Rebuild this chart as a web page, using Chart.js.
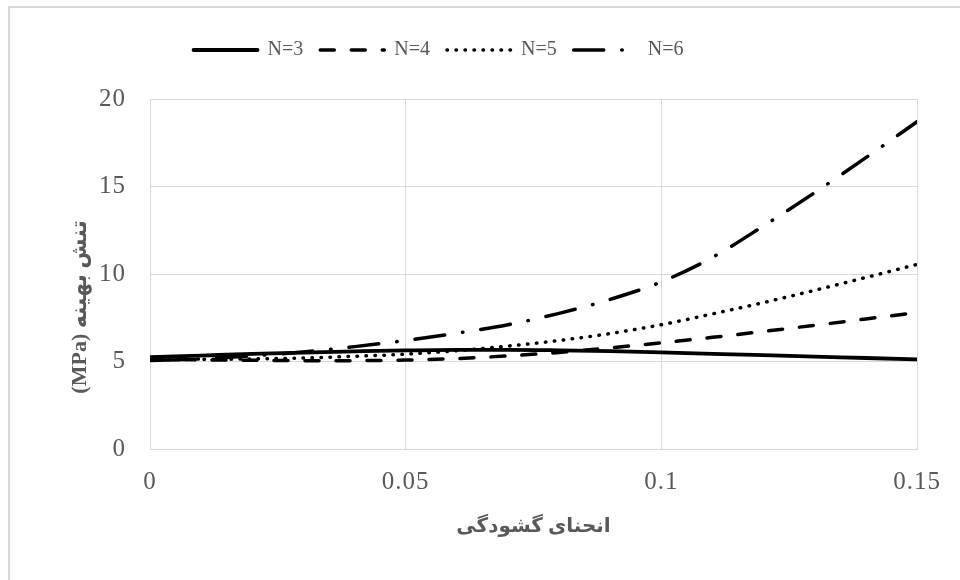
<!DOCTYPE html>
<html>
<head>
<meta charset="utf-8">
<script src="https://cdn.jsdelivr.net/npm/chart.js@4/dist/chart.umd.min.js"></script>
<style>
  html, body { margin: 0; padding: 0; background: #fff; overflow: hidden; }
  #wrap { position: relative; width: 960px; height: 580px; }
</style>
</head>
<body>
<div id="wrap"><canvas id="c" width="960" height="580"></canvas></div>
<script>
// ---- data ----
const curvature = [0, 0.01, 0.02, 0.03, 0.04, 0.05, 0.06, 0.07, 0.08, 0.09, 0.10, 0.11, 0.12, 0.13, 0.14, 0.15];
const seriesN3 = [5.25, 5.34, 5.43, 5.51, 5.58, 5.64, 5.67, 5.67, 5.64, 5.59, 5.52, 5.44, 5.36, 5.28, 5.2, 5.12];
const seriesN4 = [5.15, 5.1, 5.07, 5.05, 5.05, 5.08, 5.17, 5.32, 5.52, 5.78, 6.07, 6.38, 6.72, 7.07, 7.43, 7.8];
const seriesN5 = [5.1, 5.12, 5.15, 5.2, 5.3, 5.42, 5.62, 5.88, 6.2, 6.6, 7.1, 7.72, 8.37, 9.07, 9.8, 10.55];
const seriesN6 = [5.05, 5.15, 5.32, 5.55, 5.85, 6.2, 6.62, 7.1, 7.75, 8.55, 9.55, 10.95, 12.75, 14.65, 16.65, 18.7];
const seriesLabels = ['N=3', 'N=4', 'N=5', 'N=6'];
const yTicks = [0, 5, 10, 15, 20];
const xTicks = [0, 0.05, 0.1, 0.15];
const xTitle = 'انحنای گشودگی';
const yTitle = '(MPa) تنش بهینه';

const toPts = arr => arr.map((v, i) => ({ x: curvature[i], y: v }));
const FONT = "'Liberation Serif', 'Times New Roman', 'DejaVu Sans', serif";
const GRAY = '#595959';
const GRID = '#d9d9d9';

function spaced(scale, px) {
  const orig = scale.drawLabels;
  if (orig.__spaced) return;
  const fn = function (area) {
    const ctx = this.ctx;
    ctx.save();
    ctx.letterSpacing = px;
    orig.call(this, area);
    ctx.restore();
  };
  fn.__spaced = true;
  scale.drawLabels = fn;
}

const frame = {
  id: 'frame',
  beforeDraw(chart) {
    const ctx = chart.ctx;
    ctx.save();
    ctx.fillStyle = '#fff';
    ctx.fillRect(0, 0, chart.width, chart.height);
    ctx.strokeStyle = GRID;
    ctx.lineWidth = 2;
    ctx.beginPath();
    ctx.moveTo(9, chart.height);
    ctx.lineTo(9, 7);
    ctx.lineTo(chart.width, 7);
    ctx.stroke();
    ctx.restore();
  },
  afterLayout(chart) {
    const lg = chart.legend;
    if (lg) { lg.left -= 20; lg.right -= 20; lg.top -= 29; lg.bottom -= 29; }
    spaced(chart.scales.x, '1px');
    spaced(chart.scales.y, '1px');
  },
  afterDraw(chart) {
    // y axis title (rotated), placed like the reference
    const ctx = chart.ctx;
    const area = chart.chartArea;
    ctx.save();
    ctx.translate(80, (area.top + area.bottom) / 2 + 33);
    ctx.rotate(-Math.PI / 2);
    ctx.fillStyle = GRAY;
    ctx.font = "bold 22px " + FONT;
    ctx.textAlign = 'center';
    ctx.textBaseline = 'middle';
    ctx.fillText(yTitle, 0, 0);
    ctx.restore();
  }
};

const common = { pointRadius: 0, pointHoverRadius: 0, fill: false, cubicInterpolationMode: 'monotone', borderColor: '#000', backgroundColor: '#000' };

new Chart(document.getElementById('c'), {
  type: 'line',
  data: {
    datasets: [
      Object.assign({ label: seriesLabels[0], data: toPts(seriesN3), borderWidth: 3.8, borderCapStyle: 'round' }, common),
      Object.assign({ label: seriesLabels[1], data: toPts(seriesN4), borderWidth: 3.5, borderDash: [14, 17], borderCapStyle: 'round' }, common),
      Object.assign({ label: seriesLabels[2], data: toPts(seriesN5), borderWidth: 3.5, borderDash: [0.5, 8.5], borderCapStyle: 'round' }, common),
      Object.assign({ label: seriesLabels[3], data: toPts(seriesN6), borderWidth: 3.5, borderDash: [30, 18, 0.5, 18], borderCapStyle: 'round' }, common)
    ]
  },
  options: {
    responsive: false,
    animation: false,
    events: [],
    layout: { padding: { left: 0, right: 43, top: 52, bottom: 0 } },
    plugins: {
      legend: {
        position: 'top',
        labels: {
          usePointStyle: true,
          pointStyle: 'line',
          pointStyleWidth: 64,
          boxHeight: 20,
          padding: 17,
          color: GRAY,
          font: { family: FONT, size: 20 },
          generateLabels: chart => chart.data.datasets.map((ds, i) => ({
            text: ds.label,
            fillStyle: '#000',
            strokeStyle: '#000',
            lineWidth: ds.borderWidth,
            lineDash: ds.borderDash || [],
            lineCap: 'round',
            pointStyle: 'line',
            fontColor: GRAY,
            hidden: false,
            datasetIndex: i
          }))
        }
      },
      tooltip: { enabled: false }
    },
    scales: {
      x: {
        type: 'linear',
        min: 0, max: 0.15,
        afterBuildTicks: s => { s.ticks = xTicks.map(v => ({ value: v })); },
        afterFit: s => { s.height = 131; },
        ticks: { color: GRAY, font: { family: FONT, size: 25 }, padding: 18, maxRotation: 0, callback: v => String(v) },
        grid: { color: GRID, lineWidth: 1, drawTicks: false },
        border: { color: GRID, width: 1 },
        title: { display: true, text: xTitle, color: GRAY, font: { family: FONT, size: 20, weight: 'bold' }, padding: { top: 0, bottom: 41 } }
      },
      y: {
        min: 0, max: 20,
        afterBuildTicks: s => { s.ticks = yTicks.map(v => ({ value: v })); },
        afterFit: s => { s.width = 150; },
        ticks: { color: GRAY, font: { family: FONT, size: 25 }, padding: 24, callback: v => String(v) },
        grid: { color: GRID, lineWidth: 1, drawTicks: false },
        border: { color: GRID, width: 1 },
        title: { display: false }
      }
    }
  },
  plugins: [frame]
});
</script>
</body>
</html>
